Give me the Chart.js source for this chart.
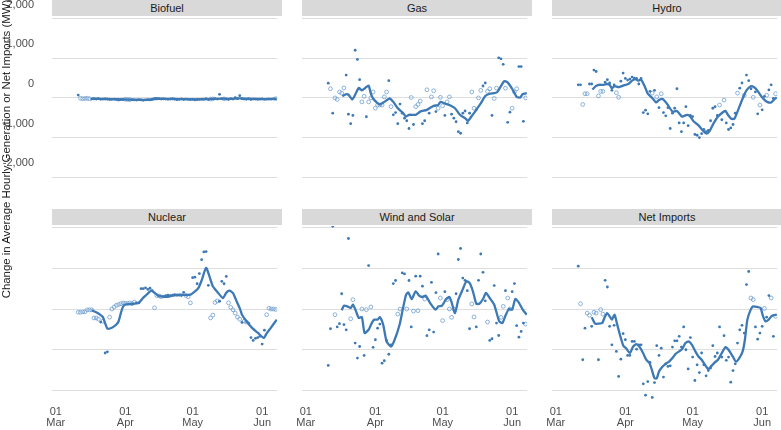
<!DOCTYPE html>
<html>
<head>
<meta charset="utf-8">
<script src="https://cdn.jsdelivr.net/npm/chart.js@4.4.1/dist/chart.umd.min.js"></script>
<style>
  body { margin: 0; background: #fff; overflow: hidden; font-family: "Liberation Sans", Arial, sans-serif; }
  #wrap { position: relative; width: 781px; height: 430px; overflow: hidden; background: #fff; }
  #wrap canvas { position: absolute; }
  .strip { position: absolute; width: 230px; height: 16px; background: #d9d9d9; color: #1a1a1a;
           font-size: 11px; line-height: 16px; text-align: center; }
  #ytitle { position: absolute; left: -169px; top: 142px; width: 350px; height: 14px; line-height: 14px;
            font-size: 11.4px; color: #1a1a1a; text-align: center; transform: rotate(-90deg); white-space: nowrap; }
</style>
</head>
<body>
<div id="wrap">
  <div id="ytitle">Change in Average Hourly Generation or Net Imports (MW)</div>
</div>
<script>
// days counted from 01 Mar (day 0); daily points run from day 10 (11 Mar)
const startDay = 10;
const tickDays = [0, 31, 61, 92];
const tickMonths = ["Mar", "Apr", "May", "Jun"];
const yTicks = [-2000, -1000, 0, 1000, 2000];

//--------------------------------------------------------
const biofuelVals = [70, -10, -20, -15, -10, -20, -30, -25, -30, -20, -35, -30, -25, -30, -40, -35, -30, -40, -55, -45,
  -40, -35, -40, -45, -45, -50, -55, -45, -50, -60, -50, -45, -50, -30, -10, -10, -20, -30, -25, -30,
  -35, -30, -20, -30, -45, -35, -25, -40, -30, -35, -40, -35, -50, -40, -35, -30, -30, -20, -40, -30,
  -25, -20, -30, 90, -20, -25, -30, -40, -20, -30, 5, -20, 55, -20, -30, -35, -25, -40, -30, -30,
  -35, -30, -25, -35, -30, -25, -30, -25, -20];
const biofuelHollow = [11, 12, 13, 14, 15, 31, 32, 33, 69, 70, 75, 98];
const biofuelLine = [[16, -15], [20, -25], [25, -30], [30, -38], [35, -45], [40, -48], [43, -40], [46, -22],
  [50, -25], [55, -30], [60, -35], [65, -35], [70, -25], [74, -20], [78, -22], [82, -12], [86, -20],
  [90, -28], [95, -30], [98.5, -25]];

const gasVals = [370, 230, -385, 0, -40, 150, 120, 250, 575, -410, -650, -440, 1200, 970, 460, -100, 40, -475, -100, 0,
  150, -260, -180, -180, -180, 25, 150, 435, -220, -425, -370, -650, -155, -385, -510, -575, -770, 10, -670, -220,
  -165, -80, -650, -575, 205, -385, 25, 180, -345, -260, 15, -200, -440, -100, 25, -410, -510, -600, -850, -890,
  -385, -330, -630, -385, 150, -260, -300, 0, 190, 300, 375, 165, 230, -440, -15, 245, 1010, 985, 845, 245,
  -615, -360, -260, 150, 230, 790, 790, -590, 0];
const gasHollow = [11, 13, 14, 15, 16, 17, 25, 26, 28, 29, 30, 31, 32, 33, 34, 35, 36, 38, 47, 49, 50, 51, 54, 56, 57,
  59, 60, 61, 63, 64, 74, 75, 77, 78, 81, 82, 84, 85, 89, 92, 93, 94, 98];
const gasLine = [[16.3, 40], [17.8, 90], [19, 80], [20.7, -40], [22, 80], [23.6, 250], [25, 190], [26.5, 250],
  [28, 310], [29, 105], [30, -15], [31.6, -115], [33, -165], [35, -100], [37.4, -15], [39, -100], [41, -260],
  [43.2, -370], [44.7, -470], [46, -425], [49, -425], [51, -345], [54, -300], [57, -200], [59, -180], [60, -100],
  [62, -140], [64, -180], [66.5, -260], [68.7, -425], [71, -510], [72.3, -575], [73.8, -470], [76, -300],
  [78, -140], [80, 50], [82, 105], [84, 120], [85.4, 150], [87, 295], [88.4, 420], [89.8, 395], [92, 230],
  [94, 25], [95.6, 10], [96.6, 90], [98.5, 120]];

const hydroVals = [330, 330, -165, 105, 105, 350, 350, 700, 665, 50, 165, 165, 395, 460, 375, 190, 330, 130, 15, 420,
  625, 490, 450, 475, 525, 500, 490, 350, 490, -370, -310, -400, 165, 120, 190, 25, -245, 105, -370, -450,
  -245, -770, -385, -260, 230, -630, -850, -630, -220, -700, -440, -470, -920, -940, -1000, -900, -795, -850, -820, -575,
  -260, -220, -440, -180, -550, -55, -630, -795, -755, -670, -385, 120, 245, 375, 65, 575, 435, 230, 15, 150,
  -400, -180, -300, 40, 65, 200, 330, -15, 105];
const hydroHollow = [12, 13, 14, 19, 20, 21, 27, 28, 43, 45, 47, 73, 75, 81, 84, 88, 91, 94, 98];
const hydroLine = [[16.3, 210], [17.8, 295], [19.2, 330], [21.4, 330], [22.9, 350], [24, 330], [25, 245],
  [26.2, 295], [28, 270], [30, 310], [32.3, 350], [34, 435], [35.5, 475], [36.7, 435], [38, 460], [39.6, 295],
  [41, 105], [43.2, -15], [44.7, -115], [46, -55], [47.6, -30], [49.8, -165], [52, -345], [54, -330],
  [56.3, -470], [58.5, -425], [60, -470], [61.4, -590], [63.6, -690], [65.8, -835], [67.2, -900], [68.7, -820],
  [70.2, -655], [72.3, -470], [74.5, -360], [75.7, -330], [76.7, -425], [78.2, -525], [79.6, -525], [81, -345],
  [83.3, -15], [85, 190], [86.9, 295], [88.4, 270], [89.8, 190], [91.3, 65], [92.7, -30], [94.2, -100],
  [96, -115], [97.8, -15], [98.5, 10]];

const nuclearVals = [-80, -80, -70, -70, -20, -20, -20, -220, -220, -250, -320, -300, -1080, -1050, -200, 0, 50, 90, 110, 130,
  150, 140, 140, 150, 130, 170, 150, 150, 500, 500, 520, 480, 510, 450, 30, 330, 320, 300, 310, 330,
  340, 330, 340, 350, 340, 340, 330, 410, 330, 300, 150, 770, 780, 620, 870, 1210, 1400, 1410, 580, -220,
  -150, 160, 200, 190, 680, 620, 800, 150, 40, -20, -100, -200, -250, -330, -300, -320, -350, -700, -770, -720,
  -700, -670, -860, -520, -140, 20, 0, 0, -10];
const nuclearHollow = [10, 11, 12, 13, 14, 15, 16, 17, 18, 19, 21, 24, 25, 26, 27, 28, 29, 30, 31, 32, 33, 34, 35,
  44, 45, 46, 47, 58, 59, 60, 69, 70, 71, 72, 77, 78, 79, 80, 81, 82, 84, 85, 94, 95, 96, 97, 98];
const nuclearLine = [[16, -30], [18, -80], [20, -150], [21, -200], [22, -350], [23, -480], [25, -460], [27, -380],
  [28, -300], [29, -100], [30, 60], [31, 110], [33, 120], [35, 130], [37, 150], [39, 280], [41, 380], [42.5, 450],
  [44, 400], [45.5, 330], [48, 300], [50, 300], [52, 330], [55.6, 350], [60, 350], [62, 430], [63.6, 520],
  [65, 700], [67, 1010], [68.5, 800], [70, 560], [72, 420], [74.5, 270], [76, 400], [77.4, 450], [79, 390],
  [80.3, 230], [82, 20], [83, -140], [85, -300], [87.6, -470], [90, -580], [92.7, -710], [94, -600], [96, -450],
  [98.5, -260]];

const windSolarVals = [-1385, -485, 2030, -140, -440, -360, 375, -385, -510, 1730, -240, 230, -835, -1205, -920, 0, -1140, -15, 1065, 50,
  -940, -755, -470, -370, -1330, -1270, -770, -1110, -880, 625, 700, -125, 0, 885, 860, 0, 700, -440, -50, 805,
  -40, 805, 560, 245, -655, -510, 655, -565, 400, 1350, 270, -285, 425, 230, 0, -205, 0, 375, 1215, 1485,
  760, 705, 450, -485, 125, -195, -440, 705, 1350, 900, 200, -320, -770, -730, 575, -345, -650, -205, 65, 450,
  270, 0, 425, 625, -410, -690, -550, -345, -370];
const windSolarHollow = [13, 20, 21, 25, 27, 29, 41, 42, 45, 48, 50, 53, 60, 61, 63, 64, 65, 66, 74, 75, 81, 87, 88,
  90, 91, 98];
const windSolarLine = [[16, -30], [17, 80], [18.5, 65], [20, 25], [21, 105], [22, 0], [23.6, -220], [25, -200],
  [26.2, -590], [28, -510], [29.4, -345], [30.6, -260], [32, -260], [33, -200], [34.5, -385], [36, -795],
  [38, -920], [39.6, -755], [41.8, -385], [43.2, -15], [44.7, 350], [45.7, 410], [47.2, 245], [49, 435],
  [50.5, 330], [52, 295], [53.4, 330], [55.6, 130], [57.8, -15], [59.2, 65], [60.7, 80], [62.6, 245], [64, 295],
  [65, 165], [66.5, -100], [68, 230], [69.9, 475], [71.6, 680], [73, 640], [74.5, 435], [76, 130], [77.4, 130],
  [79, 245], [80.3, 395], [82, 270], [84, 105], [86.2, -300], [87.6, -345], [89, -165], [90.5, 0], [92, -15],
  [93.4, 245], [94.9, 165], [96.7, -15], [98.5, -140]];

const netImportsVals = [1050, 130, -1245, -470, -100, -155, -425, -80, -100, -1245, -15, -125, 705, 540, -425, -880, -400, -1040, -1655, -1230,
  -605, -755, -1140, -1140, -795, -795, -985, -880, -880, -1835, -2115, -1780, -1310, -2170, -1805, -900, -1140, -960, -1670, -1345,
  -1410, -1395, -935, -780, -780, -670, -935, -440, -1000, -1470, -700, -1180, -1755, -1370, -1560, -1080, -1370, -1640, -1510, -1450,
  -900, -1165, -1080, -440, -1180, -655, -1260, -1180, -1795, -1510, -1345, -835, -510, -400, -590, 600, 920, 270, 230, -440,
  -740, -590, -425, 15, -200, 330, 270, -670, -180];
const netImportsHollow = [11, 14, 15, 17, 18, 20, 21, 87, 88, 93, 96, 98];
const netImportsLine = [[16, -200], [17.5, -360], [19.2, -360], [20.7, -345], [21.8, -200], [22.9, -100], [24, -180],
  [25, -260], [26.2, -140], [27.2, -345], [28.7, -655], [30.1, -900], [31.5, -975], [33, -1080], [34.5, -920],
  [36, -860], [37.4, -935], [38.9, -1080], [40.3, -1245], [41.8, -1330], [42.8, -1490], [44, -1700], [45, -1700],
  [46, -1535], [47.6, -1410], [49, -1345], [50.5, -1290], [52, -1205], [53.4, -1100], [55, -1040], [56.3, -985],
  [57.8, -835], [59.2, -795], [60.7, -880], [62.2, -1040], [63.6, -1165], [65, -1245], [66.5, -1370], [68, -1475],
  [69.4, -1395], [70.9, -1310], [72.3, -1245], [73.8, -1100], [75.7, -935], [77, -1000], [78.9, -1165],
  [80.3, -1290], [81.8, -1205], [83.3, -1040], [84.3, -755], [85.4, -260], [86.9, -15], [88, 65], [89.8, 50],
  [91.3, 25], [92.3, -165], [93.4, -300], [94.9, -260], [96.4, -165], [98.5, -140]];

//--------------------------------------------------------
const panels = [
  { title: "Biofuel", col: 0, row: 0, vals: biofuelVals, hollow: biofuelHollow, line: biofuelLine },
  { title: "Gas", col: 1, row: 0, vals: gasVals, hollow: gasHollow, line: gasLine },
  { title: "Hydro", col: 2, row: 0, vals: hydroVals, hollow: hydroHollow, line: hydroLine },
  { title: "Nuclear", col: 0, row: 1, vals: nuclearVals, hollow: nuclearHollow, line: nuclearLine },
  { title: "Wind and Solar", col: 1, row: 1, vals: windSolarVals, hollow: windSolarHollow, line: windSolarLine },
  { title: "Net Imports", col: 2, row: 1, vals: netImportsVals, hollow: netImportsHollow, line: netImportsLine },
];

const colLeft = [52, 302, 552];
const rowTop = [0, 209];       // strip tops
const rowCanvasH = [207, 221];
const rowYMin = [-2626, -2282];
const yMax = 2037;
const family = "'Liberation Sans', Arial, sans-serif";
const blue = "#3d79b5";
const lightBlue = "#6f9fd2";

Chart.defaults.font.family = family;

function pickPoints(vals, hollow, wantHollow) {
  const out = [];
  vals.forEach((v, i) => {
    const d = startDay + i;
    if (hollow.includes(d) === wantHollow) out.push({ x: d, y: v });
  });
  return out;
}

function drawPanel(p) {
  const wrap = document.getElementById("wrap");
  const canvas = document.createElement("canvas");
  canvas.width = 282;
  canvas.height = rowCanvasH[p.row];
  canvas.style.left = (colLeft[p.col] - 52) + "px";
  canvas.style.top = rowTop[p.row] + "px";
  wrap.appendChild(canvas);

  const strip = document.createElement("div");
  strip.className = "strip";
  strip.style.left = colLeft[p.col] + "px";
  strip.style.top = rowTop[p.row] + "px";
  strip.textContent = p.title;
  wrap.appendChild(strip);

  const bottomRow = p.row === 1;
  const showY = p.row === 0 && p.col === 0;

  new Chart(canvas, {
    type: "scatter",
    data: {
      datasets: [
        {
          type: "line",
          data: p.line.map(([x, y]) => ({ x, y })),
          borderColor: blue,
          borderWidth: 2.3,
          pointRadius: 0,
          tension: 0.2,
          fill: false,
          order: 0,
        },
        {
          data: pickPoints(p.vals, p.hollow, false),
          backgroundColor: blue,
          borderWidth: 0,
          pointRadius: 1.4,
          order: 1,
        },
        {
          data: pickPoints(p.vals, p.hollow, true),
          backgroundColor: "rgba(0,0,0,0)",
          borderColor: lightBlue,
          borderWidth: 0.8,
          pointRadius: 1.9,
          order: 2,
        },
      ],
    },
    options: {
      animation: false,
      responsive: false,
      devicePixelRatio: 1,
      layout: { padding: { top: 17, left: 0, right: 0, bottom: 0 } },
      plugins: { legend: { display: false }, tooltip: { enabled: false } },
      scales: {
        x: {
          type: "linear",
          min: -1.7,
          max: 98.7,
          grid: { display: false, drawTicks: false },
          border: { display: false },
          afterBuildTicks: (s) => { s.ticks = tickDays.map((v) => ({ value: v })); },
          afterFit: (s) => {
            s.height = bottomRow ? 28 : 0;
            s.paddingLeft = 0;
            s.paddingRight = 0;
          },
          ticks: {
            display: bottomRow,
            autoSkip: false,
            maxRotation: 0,
            padding: 4,
            color: "#4d4d4d",
            font: { size: 11, lineHeight: 1.05 },
            callback: (v, i) => ["01", tickMonths[i]],
          },
        },
        y: {
          min: rowYMin[p.row],
          max: yMax,
          border: { display: false },
          grid: { color: "#dedede", lineWidth: 1, drawTicks: false },
          afterBuildTicks: (s) => { s.ticks = yTicks.map((v) => ({ value: v })); },
          afterFit: (s) => {
            s.width = 52;
            s.paddingTop = 0;
            s.paddingBottom = 0;
          },
          ticks: {
            display: showY,
            padding: 18,
            labelOffset: -14,
            color: "#4d4d4d",
            font: { size: 11 },
            callback: (v) => v.toLocaleString("en-US"),
          },
        },
      },
    },
  });
}

panels.forEach(drawPanel);
// keep axis title above the canvases
document.getElementById("wrap").appendChild(document.getElementById("ytitle"));
</script>
</body>
</html>
